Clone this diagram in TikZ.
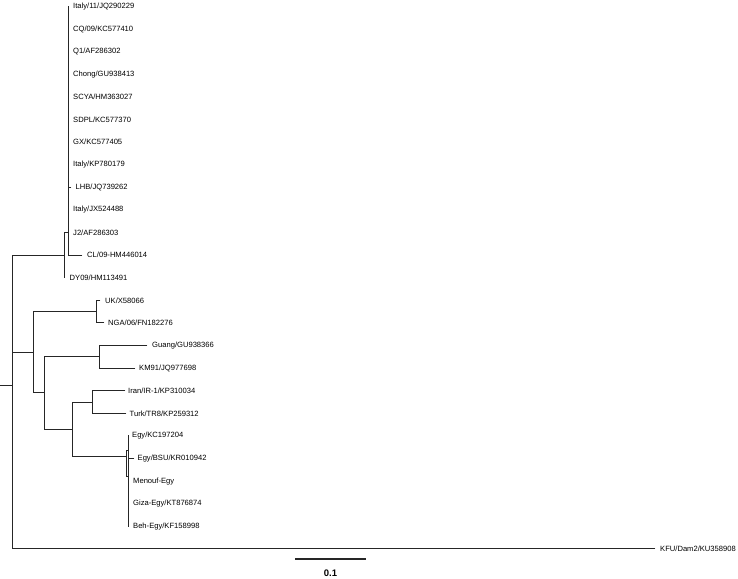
\documentclass[tikz,border=0pt]{standalone}
\usepackage{fontspec}
\setmainfont{Liberation Sans}
\begin{document}
\begin{tikzpicture}[x=1bp,y=-1bp,
  br/.style={line width=0.95bp, draw=black!85, line cap=rect},
  leaf/.style={anchor=west, inner sep=0pt, font=\fontsize{7.6bp}{9bp}\selectfont},
  scalebar/.style={line width=1.2bp, draw=black!85},
  scalelabel/.style={inner sep=0pt, font=\fontsize{9.5bp}{11bp}\selectfont\bfseries},
]
\useasboundingbox (0,0) rectangle (738,579);
% ---- leaf labels
\node[leaf] (l0)  at (73,6.5)   {Italy/11/JQ290229};
\node[leaf] (l1)  at (73,29.1)  {CQ/09/KC577410};
\node[leaf] (l2)  at (73,51.7)  {Q1/AF286302};
\node[leaf] (l3)  at (73,74.3)  {Chong/GU938413};
\node[leaf] (l4)  at (73,96.9)  {SCYA/HM363027};
\node[leaf] (l5)  at (73,119.5) {SDPL/KC577370};
\node[leaf] (l6)  at (73,142.1) {GX/KC577405};
\node[leaf] (l7)  at (73,164.7) {Italy/KP780179};
\node[leaf] (l8)  at (75.5,187.3) {LHB/JQ739262};
\node[leaf] (l9)  at (73,209.9) {Italy/JX524488};
\node[leaf] (l10) at (73,232.5) {J2/AF286303};
\node[leaf] (l11) at (87,255.1) {CL/09-HM446014};
\node[leaf] (l12) at (69.5,277.7) {DY09/HM113491};
\node[leaf] (l13) at (105,300.3) {UK/X58066};
\node[leaf] (l14) at (108,322.9) {NGA/06/FN182276};
\node[leaf] (l15) at (152,345.5) {Guang/GU938366};
\node[leaf] (l16) at (139,368.1) {KM91/JQ977698};
\node[leaf] (l17) at (128,390.7) {Iran/IR-1/KP310034};
\node[leaf] (l18) at (129.5,413.3) {Turk/TR8/KP259312};
\node[leaf] (l19) at (132,435.9) {Egy/KC197204};
\node[leaf] (l20) at (137.5,458.5) {Egy/BSU/KR010942};
\node[leaf] (l21) at (133,481.1) {Menouf-Egy};
\node[leaf] (l22) at (133,503.7) {Giza-Egy/KT876874};
\node[leaf] (l23) at (133,526.3) {Beh-Egy/KF158998};
\node[leaf] (l24) at (660,548.9) {KFU/Dam2/KU358908};
% ---- internal nodes and branch ends
\coordinate (rs) at (0,385.4);
\coordinate (r)  at (12,385.4);
\coordinate (rt) at (12,255.1);
\coordinate (rm) at (12,352.25);
\coordinate (rb) at (12,548.9);
\coordinate (kfu) at (655,548.9);
% top clade
\coordinate (nA)  at (64,255.1);
\coordinate (nAt) at (64,232.5);
\coordinate (nAb) at (64,277.7);
\coordinate (nBt) at (68,6.5);
\coordinate (nBj) at (68,232.5);
\coordinate (nBb) at (68,255.1);
\coordinate (nBl) at (68,187.3);
\coordinate (lhb) at (71,187.3);
\coordinate (cl)  at (82,255.1);
% middle clade
\coordinate (n33)  at (33,352.25);
\coordinate (n33t) at (33,311.6);
\coordinate (n33b) at (33,392.9);
\coordinate (n96)  at (96,311.6);
\coordinate (n96t) at (96,300.3);
\coordinate (n96b) at (96,322.9);
\coordinate (uk)   at (100,300.3);
\coordinate (nga)  at (104,322.9);
\coordinate (n44)  at (44,392.9);
\coordinate (n44t) at (44,356.8);
\coordinate (n44b) at (44,429);
\coordinate (n99)  at (99,356.8);
\coordinate (n99t) at (99,345.5);
\coordinate (n99b) at (99,368.1);
\coordinate (guang) at (147,345.5);
\coordinate (km)   at (135,368.1);
\coordinate (n72)  at (72,429);
\coordinate (n72t) at (72,402);
\coordinate (n72b) at (72,456);
\coordinate (n92)  at (92,402);
\coordinate (n92t) at (92,390.7);
\coordinate (n92b) at (92,413.3);
\coordinate (iran) at (125,390.7);
\coordinate (turk) at (126,413.3);
\coordinate (e1)   at (126,456);
\coordinate (e1t)  at (126,450);
\coordinate (e1b)  at (126,476);
\coordinate (e2t)  at (128.5,450);
\coordinate (e2b)  at (128.5,476);
\coordinate (e3t)  at (128.5,435.9);
\coordinate (e3b)  at (128.5,526.3);
\coordinate (e3m)  at (128.5,458.5);
\coordinate (bsu)  at (134,458.5);
% ---- branches
\draw[br] (rs) -- (r);
\draw[br] (rt) -- (rb) -- (kfu);
\draw[br] (rt) -- (nA);
\draw[br] (nAt) -- (nAb);
\draw[br] (nAt) -- (nBj);
\draw[br] (nBt) -- (nBb) -- (cl);
\draw[br] (nBl) -- (lhb);
\draw[br] (rm) -- (n33);
\draw[br] (n33t) -- (n33b);
\draw[br] (n33t) -- (n96);
\draw[br] (n96t) -- (n96b);
\draw[br] (n96t) -- (uk);
\draw[br] (n96b) -- (nga);
\draw[br] (n33b) -- (n44);
\draw[br] (n44t) -- (n44b);
\draw[br] (n44t) -- (n99);
\draw[br] (n99t) -- (n99b);
\draw[br] (n99t) -- (guang);
\draw[br] (n99b) -- (km);
\draw[br] (n44b) -- (n72);
\draw[br] (n72t) -- (n72b);
\draw[br] (n72t) -- (n92);
\draw[br] (n92t) -- (n92b);
\draw[br] (n92t) -- (iran);
\draw[br] (n92b) -- (turk);
\draw[br] (n72b) -- (e1);
\draw[br] (e2t) -- (e1t) -- (e1b) -- (e2b);
\draw[br] (e3t) -- (e3b);
\draw[br] (e3m) -- (bsu);
% ---- scale bar
\coordinate (sb1) at (295,559);
\coordinate (sb2) at (366,559);
\draw[scalebar] (sb1) -- (sb2);
\node[scalelabel] (sbl) at (330.5,573) {0.1};
\end{tikzpicture}
\end{document}
